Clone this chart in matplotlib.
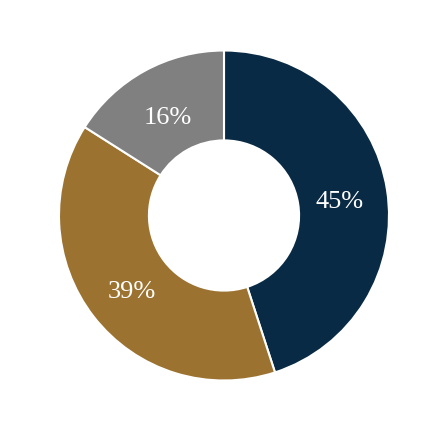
import matplotlib.pyplot as plt
from matplotlib.transforms import offset_copy

plt.rcParams["font.family"] = ["Liberation Serif", "DejaVu Serif"]

labels = ["A", "B", "C"]
shares = [45, 39, 16]
colors = ["#082a44", "#9b722f", "#808080"]

fig = plt.figure(figsize=(4.46, 4.30), dpi=100)
ax = fig.add_axes([0, 0, 1, 1])
wedges, texts, autotexts = ax.pie(
    shares,
    colors=colors,
    startangle=90,
    counterclock=False,
    radius=1.0,
    autopct="%d%%",
    pctdistance=0.71,
    wedgeprops=dict(width=0.545, edgecolor="white", linewidth=1.5),
    textprops=dict(color="white", fontsize=19),
)
# labels sit a little lower than the ring middle
for t in autotexts:
    t.set_transform(offset_copy(ax.transData, fig=fig, x=0, y=-5, units="dots"))

ax.set_xlim(-224 / 165, (446 - 224) / 165)
ax.set_ylim(-(430 - 215.5) / 165, 215.5 / 165)
ax.set_aspect("equal")
ax.axis("off")

fig.savefig("out.png", dpi=100)
